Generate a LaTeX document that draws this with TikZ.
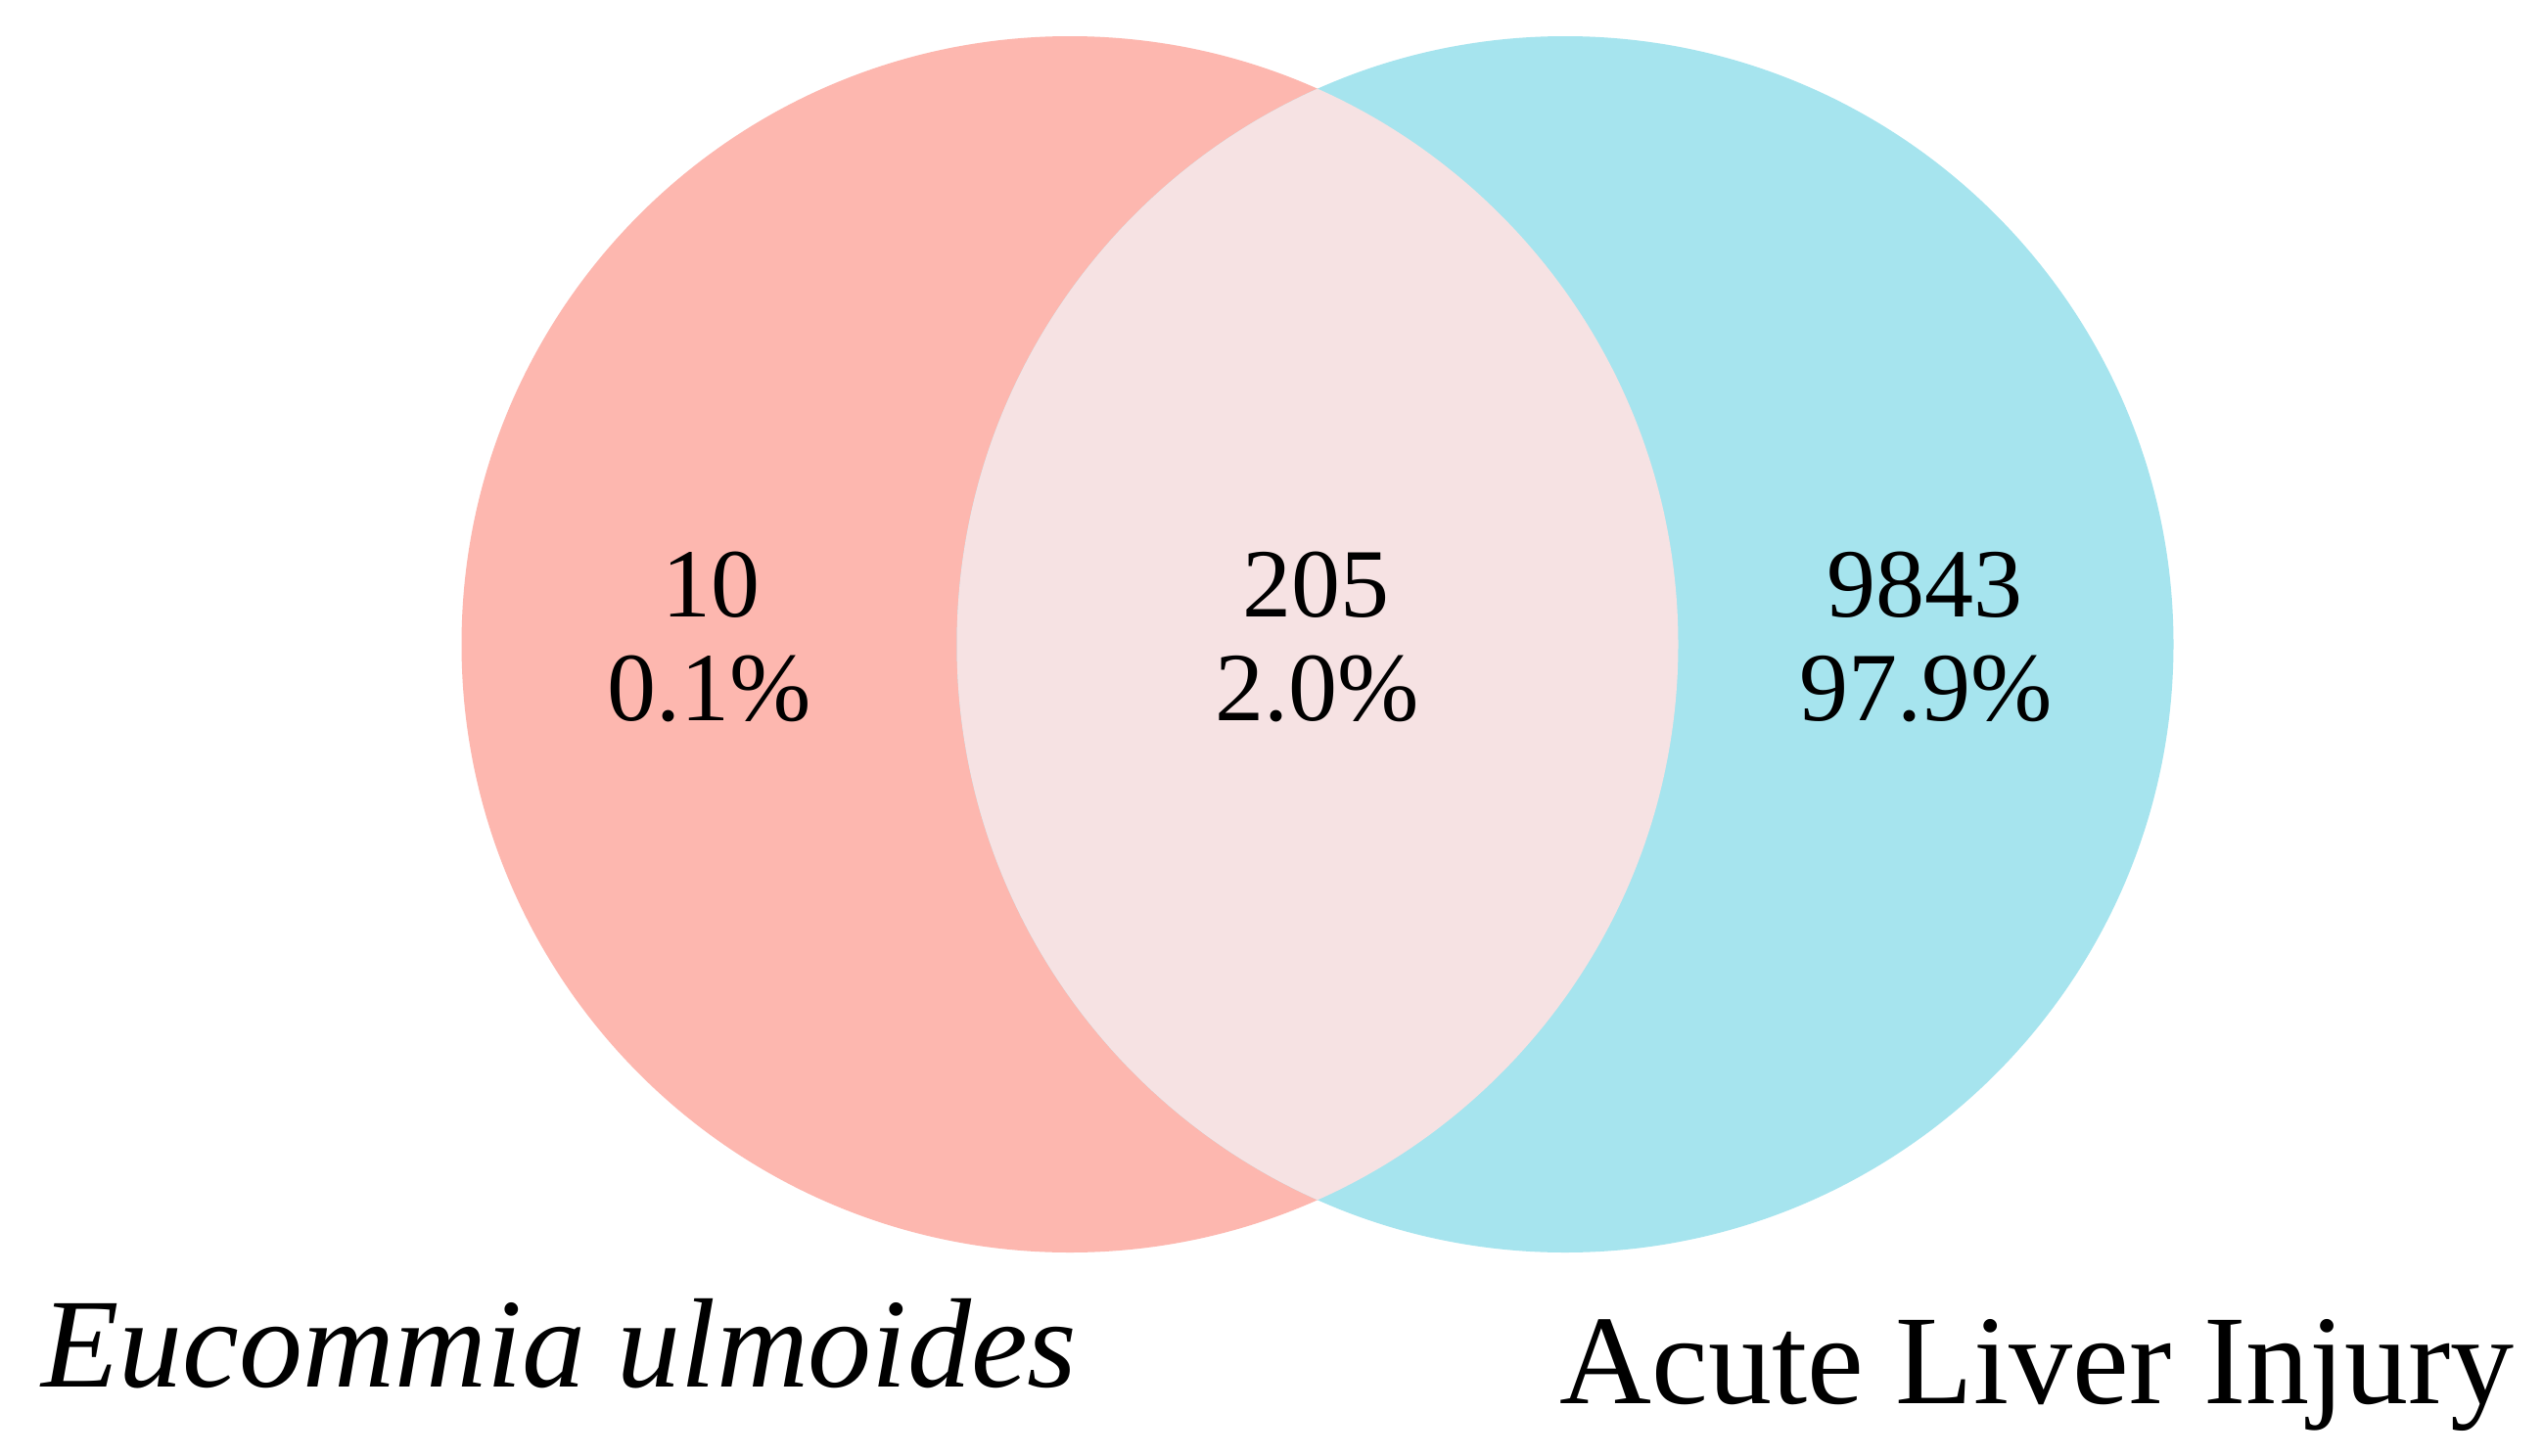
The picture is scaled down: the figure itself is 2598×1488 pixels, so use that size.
\documentclass[tikz,border=0pt]{standalone}
\usepackage{fontspec}
\setmainfont{Liberation Serif}
\definecolor{leftc}{HTML}{FDB7AF}
\definecolor{rightc}{HTML}{A6E4EE}
\definecolor{lensc}{HTML}{F6E2E3}
\begin{document}
\begin{tikzpicture}[x=0.5pt,y=-0.5pt,
  num/.style={anchor=base,inner sep=0pt,font=\fontsize{50}{60}\selectfont},
  lbl/.style={inner sep=0pt,font=\fontsize{65}{78}\selectfont}]
\useasboundingbox (0,0) rectangle (2598,1488);
\fill[white] (0,0) rectangle (2598,1488);
\coordinate (cl) at (1093,658.5);
\coordinate (cr) at (1599,658.5);
\fill[leftc] (cl) circle[radius=310.75pt];
\fill[rightc] (cr) circle[radius=310.75pt];
\begin{scope}
  \clip (cl) circle[radius=310.75pt];
  \fill[lensc] (cr) circle[radius=310.75pt];
\end{scope}
\node[num] (a1) at (726,630) {10};
\node[num] (a2) at (725,736) {0.1\%};
\node[num] (b1) at (1344,630) {205};
\node[num] (b2) at (1346,736) {2.0\%};
\node[num] (c1) at (1966,630) {9843};
\node[num] (c2) at (1968,736) {97.9\%};
\node[lbl,anchor=base west] (eu) at (42,1417) {\itshape Eucommia ulmoides};
\node[lbl,anchor=base east] (ali) at (2569,1434) {Acute Liver Injury};
\end{tikzpicture}
\end{document}
